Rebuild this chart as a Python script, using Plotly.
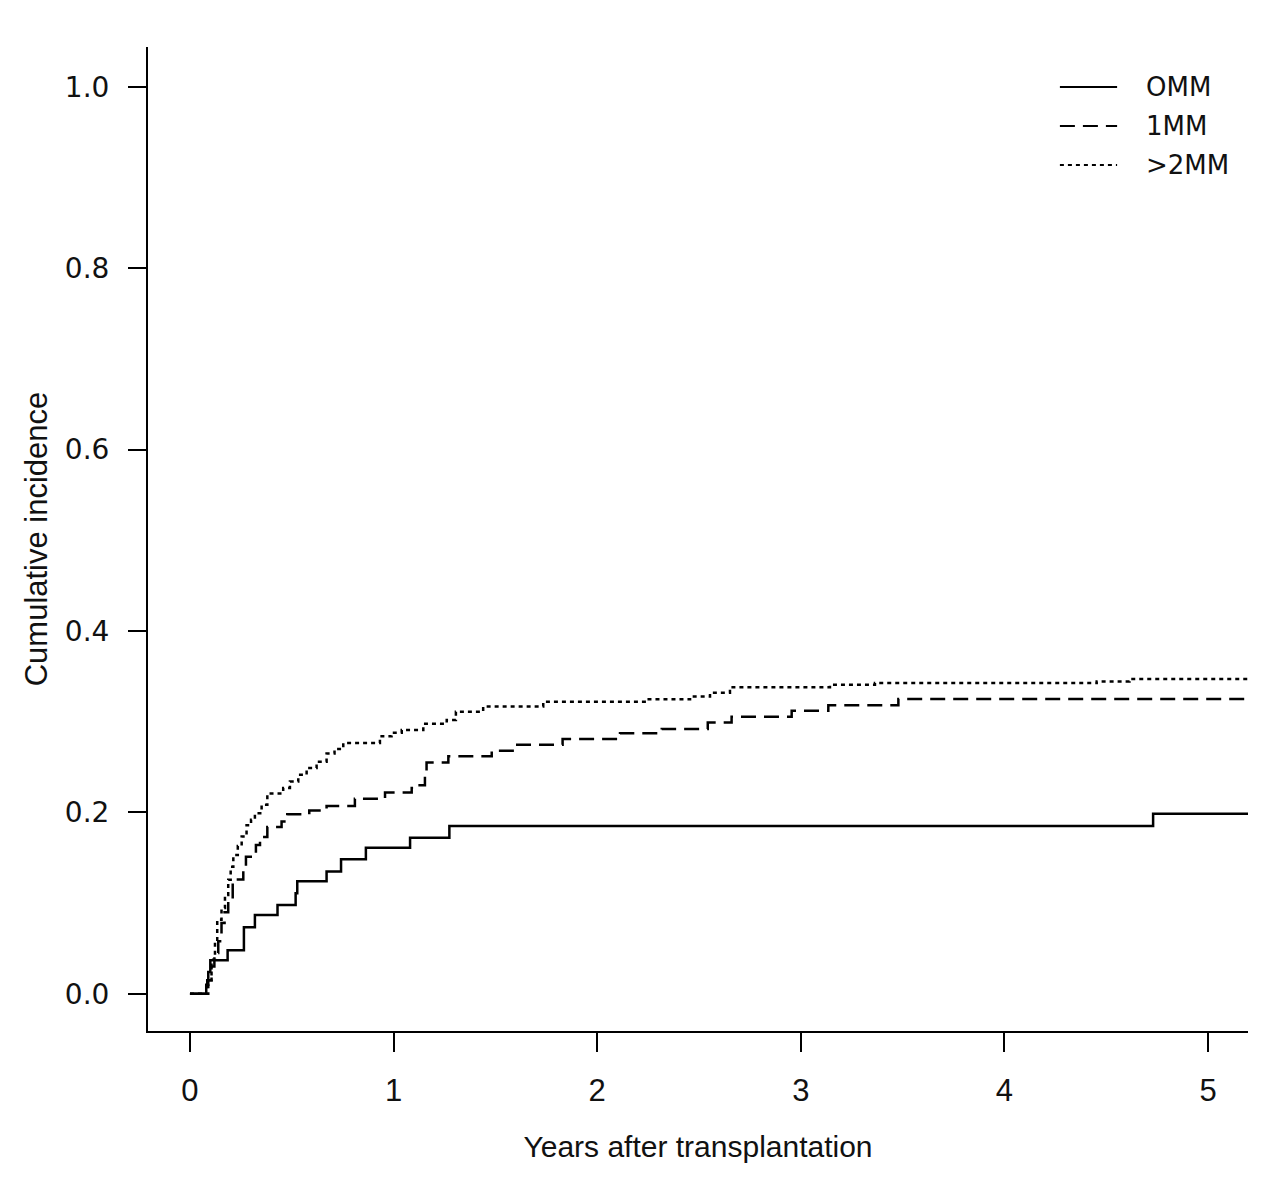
import plotly.graph_objects as go

# Years after transplantation (step times) and cumulative incidence values
t_0mm = [0, 0.08, 0.09, 0.10, 0.185, 0.265, 0.319, 0.43, 0.519, 0.527, 0.671, 0.742, 0.864, 1.081, 1.274, 4.73, 5.2]
v_0mm = [0, 0.010, 0.024, 0.037, 0.048, 0.0735, 0.087, 0.098, 0.111, 0.124, 0.135, 0.1485, 0.161, 0.172, 0.185, 0.1985, 0.1985]

t_1mm = [0, 0.085, 0.106, 0.12, 0.139, 0.155, 0.17, 0.188, 0.21, 0.262, 0.275, 0.324, 0.344, 0.38, 0.45, 0.478,
         0.586, 0.671, 0.81, 0.958, 1.089, 1.113, 1.154, 1.162, 1.269, 1.482, 1.596, 1.83, 2.112, 2.317, 2.543,
         2.66, 2.955, 3.135, 3.479, 5.2]
v_1mm = [0, 0.015, 0.030, 0.045, 0.058, 0.078, 0.090, 0.102, 0.126, 0.139, 0.151, 0.164, 0.173, 0.184, 0.190, 0.198,
         0.202, 0.207, 0.215, 0.222, 0.227, 0.230, 0.2396, 0.255, 0.262, 0.268, 0.2745, 0.281, 0.2874, 0.292, 0.2991,
         0.3054, 0.312, 0.3183, 0.325, 0.325]

t_2mm = [0, 0.09, 0.106, 0.123, 0.134, 0.155, 0.172, 0.188, 0.20, 0.213, 0.235, 0.254, 0.278, 0.30, 0.319, 0.352,
         0.38, 0.458, 0.491, 0.532, 0.573, 0.622, 0.671, 0.71, 0.753, 0.933, 0.99, 1.04, 1.146, 1.261, 1.306, 1.44,
         1.735, 2.243, 2.456, 2.554, 2.652, 3.143, 3.364, 4.453, 4.614, 5.2]
v_2mm = [0, 0.015, 0.0375, 0.0595, 0.0816, 0.0945, 0.109, 0.1257, 0.140, 0.153, 0.163, 0.1734, 0.186, 0.192, 0.199, 0.2084,
         0.221, 0.227, 0.234, 0.2415, 0.249, 0.256, 0.265, 0.270, 0.2766, 0.284, 0.288, 0.291, 0.2977, 0.302, 0.311, 0.3168,
         0.322, 0.3247, 0.3278, 0.332, 0.338, 0.3407, 0.3426, 0.3444, 0.347, 0.347]

series_names = ["OMM", "1MM", ">2MM"]
series_dash = ["solid", "15px,8px", "4px,4px"]

x_ticks = [0, 1, 2, 3, 4, 5]
y_ticks = [0.0, 0.2, 0.4, 0.6, 0.8, 1.0]
y_tick_text = ["0.0", "0.2", "0.4", "0.6", "0.8", "1.0"]

fig = go.Figure()
for t, v, name, dash in zip([t_0mm, t_1mm, t_2mm], [v_0mm, v_1mm, v_2mm], series_names, series_dash):
    fig.add_trace(go.Scatter(x=t, y=v, mode="lines", name=name, line_shape="hv",
                             line=dict(color="black", width=2.5, dash=dash), showlegend=False))

# manual legend
leg_y = [0.9593, 0.9197, 0.8801]
for name, dash, yy in zip(series_names, series_dash, leg_y):
    fig.add_shape(type="line", xref="paper", yref="paper", x0=0.829, x1=0.881, y0=yy, y1=yy,
                  line=dict(color="black", width=2, dash=dash))
    fig.add_annotation(xref="paper", yref="paper", x=0.905, y=yy, text=name, showarrow=False,
                       xanchor="left", yanchor="middle",
                       font=dict(family="DejaVu Sans", size=26, color="#111"))

fig.update_layout(
    width=1280, height=1177,
    margin=dict(l=140, r=40, t=39, b=154),
    paper_bgcolor="white", plot_bgcolor="white",
    xaxis=dict(range=[-0.206, 5.196], tickvals=x_ticks, ticks="outside", ticklen=19, tickwidth=1.5,
               tickcolor="black", showline=True, linecolor="black", linewidth=2, showgrid=False,
               zeroline=False, ticklabelstandoff=12,
               tickfont=dict(family="Liberation Sans", size=31, color="#111"),
               title=dict(text="Years after transplantation", standoff=29,
                          font=dict(family="Liberation Sans", size=30, color="#111"))),
    yaxis=dict(range=[-0.041, 1.044], tickvals=y_ticks, ticktext=y_tick_text, ticks="outside", ticklen=18,
               tickwidth=1.5, tickcolor="black", showline=True, linecolor="black", linewidth=2,
               showgrid=False, zeroline=False, ticklabelstandoff=13,
               tickfont=dict(family="DejaVu Sans", size=28, color="#111"),
               title=dict(text="Cumulative incidence", standoff=8,
                          font=dict(family="Liberation Sans", size=31, color="#111"))),
)

fig.write_html("out.html")
